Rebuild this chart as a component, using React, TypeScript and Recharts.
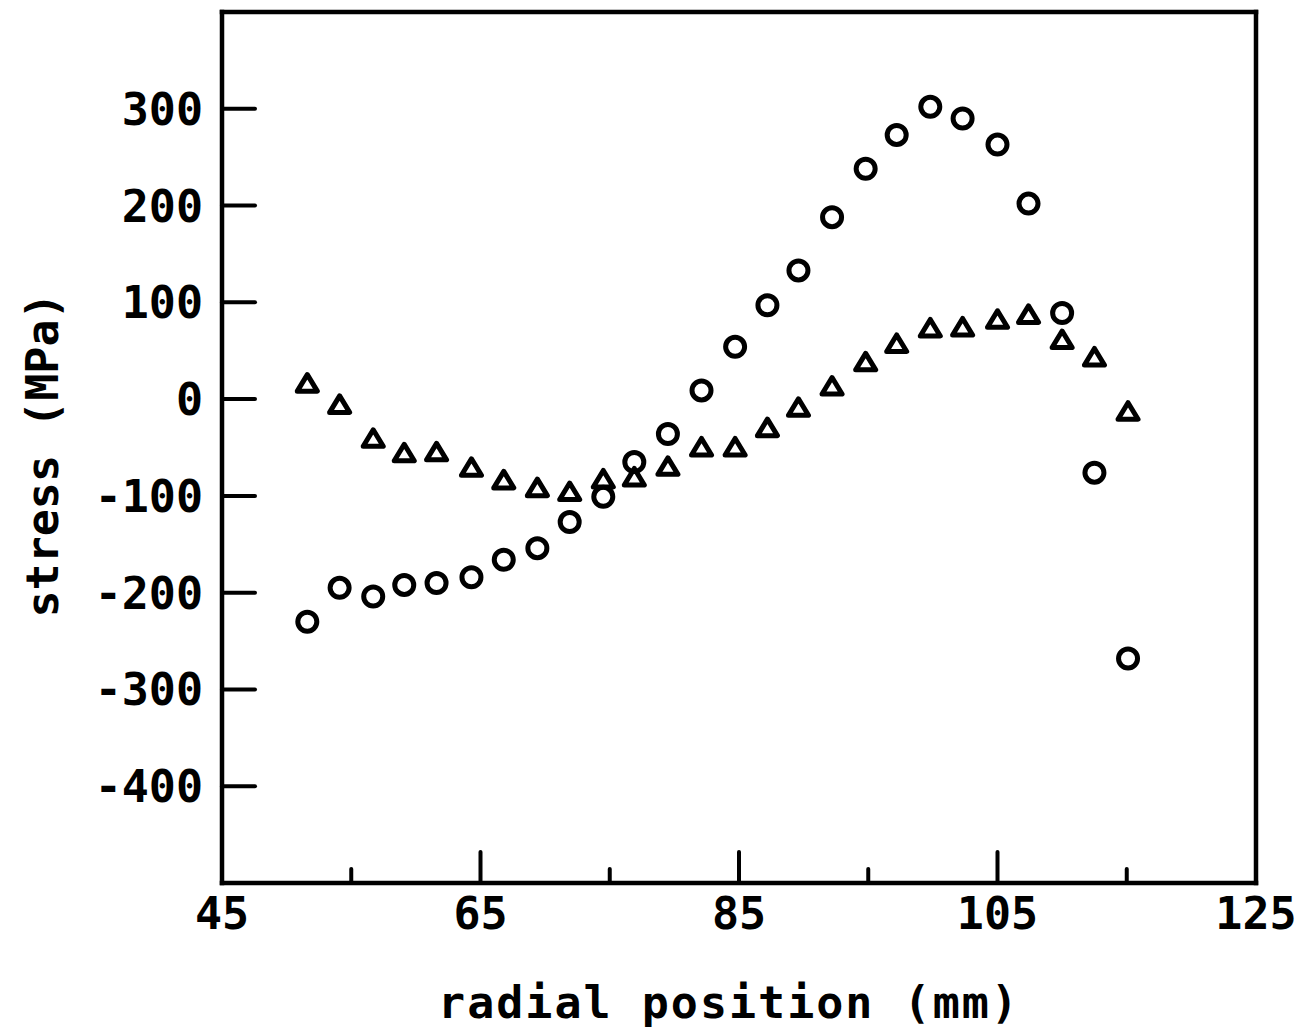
import React from "react"
import { ScatterChart, Scatter, XAxis, YAxis } from "recharts"

// radial position (mm) of each measurement
const radialPosition = [
	51.6, 54.1, 56.7, 59.1, 61.6, 64.3, 66.8, 69.4, 71.9, 74.5, 76.9, 79.5, 82.1,
	84.7, 87.2, 89.6, 92.2, 94.8, 97.2, 99.8, 102.3, 105.0, 107.4, 110.0, 112.5, 115.1,
]
// circles
const circleStress = [
	-230, -195, -204, -192, -190, -184, -166, -154, -127, -101, -65, -36, 9,
	54, 97, 133, 188, 238, 273, 302, 290, 263, 202, 89, -76, -268,
]
// triangles
const triangleStress = [
	16, -6, -41, -56, -55, -71, -84, -92, -96, -83, -81, -70, -50,
	-50, -30, -9, 13, 38, 57, 73, 74, 82, 87, 61, 43, -13,
]

const xTicks = [45, 55, 65, 75, 85, 95, 105, 115, 125]
const xLabelled = [45, 65, 85, 105, 125]
const yTicks = [-400, -300, -200, -100, 0, 100, 200, 300]

const circleData = radialPosition.map((x, i) => ({ x, y: circleStress[i] }))
const triangleData = radialPosition.map((x, i) => ({ x, y: triangleStress[i] }))

const FONT = "'DejaVu Sans Mono', monospace"
const INK = "#000"

const tickLen = (v: number) => (v === 45 || v === 125 ? 0 : v % 20 === 5 ? 31 : 14)

const BottomTick = (props: any) => {
	const { x, y, payload } = props
	const v = payload.value
	const len = tickLen(v)
	return (
		<g>
			{len > 0 && <line x1={x} x2={x} y1={y} y2={y - len} stroke={INK} strokeWidth={4} strokeLinecap="round" />}
			{xLabelled.includes(v) && (
				<text x={x} y={y + 46} textAnchor="middle" fontFamily={FONT} fontSize={45} fontWeight="bold" fill={INK}>
					{v}
				</text>
			)}
		</g>
	)
}

const TopTick = (props: any) => {
	const { x, y, payload } = props
	const len = tickLen(payload.value) - 2
	if (len <= 0) return <g />
	return <line x1={x} x2={x} y1={y} y2={y + len} stroke={INK} strokeWidth={4} strokeLinecap="round" />
}

const LeftTick = (props: any) => {
	const { x, y, payload } = props
	return (
		<g>
			<line x1={x} x2={x + 33} y1={y} y2={y} stroke={INK} strokeWidth={4} strokeLinecap="round" />
			<text x={x - 19} y={y + 16} textAnchor="end" fontFamily={FONT} fontSize={45} fontWeight="bold" fill={INK}>
				{payload.value}
			</text>
		</g>
	)
}

const RightTick = (props: any) => {
	const { x, y } = props
	return <line x1={x} x2={x - 36} y1={y} y2={y} stroke={INK} strokeWidth={4} strokeLinecap="round" />
}

const CircleMark = (props: any) => {
	const { cx, cy } = props
	return <circle cx={cx} cy={cy} r={9.5} fill="none" stroke={INK} strokeWidth={5} />
}

const TriangleMark = (props: any) => {
	const { cx, cy } = props
	const pts = `${cx},${cy - 9} ${cx + 10},${cy + 7.5} ${cx - 10},${cy + 7.5}`
	return <polygon points={pts} fill="none" stroke={INK} strokeWidth={5} strokeLinejoin="round" />
}

const axisLine = { stroke: INK, strokeWidth: 4.5, strokeLinecap: "square" as const }

export default function App() {
	return (
		<div style={{ position: "absolute", left: 0, top: 0, background: "#fff" }}>
			<ScatterChart width={1313} height={1036} margin={{ top: 0, right: 0, bottom: 0, left: 0 }}>
				<XAxis
					type="number"
					dataKey="x"
					domain={[45, 125]}
					ticks={xTicks}
					interval={0}
					height={153}
					tickSize={0}
					tickMargin={0}
					axisLine={axisLine}
					tickLine={false}
					tick={<BottomTick />}
					label={{
						value: "radial position (mm)",
						content: () => (
							<text x={729} y={1018} textAnchor="middle" fontFamily={FONT} fontSize={45} fontWeight="bold" letterSpacing={2} fill={INK}>
								radial position (mm)
							</text>
						),
					}}
				/>
				<XAxis
					xAxisId="top"
					orientation="top"
					type="number"
					dataKey="x"
					domain={[45, 125]}
					ticks={xTicks}
					interval={0}
					height={12}
					tickSize={0}
					tickMargin={0}
					axisLine={axisLine}
					tickLine={false}
					tick={<TopTick />}
				/>
				<YAxis
					type="number"
					dataKey="y"
					domain={[-500, 400]}
					ticks={yTicks}
					interval={0}
					width={222}
					tickSize={0}
					tickMargin={0}
					axisLine={axisLine}
					tickLine={false}
					tick={<LeftTick />}
					label={{
						value: "stress (MPa)",
						content: () => (
							<text
								x={58}
								y={455}
								transform="rotate(-90 58 455)"
								textAnchor="middle"
								fontFamily={FONT}
								fontSize={45}
								fontWeight="bold"
								fill={INK}
							>
								stress (MPa)
							</text>
						),
					}}
				/>
				<YAxis
					yAxisId="right"
					orientation="right"
					type="number"
					dataKey="y"
					domain={[-500, 400]}
					ticks={yTicks}
					interval={0}
					width={57}
					tickSize={0}
					tickMargin={0}
					axisLine={axisLine}
					tickLine={false}
					tick={<RightTick />}
				/>
				<Scatter data={triangleData} shape={<TriangleMark />} isAnimationActive={false} />
				<Scatter data={circleData} shape={<CircleMark />} isAnimationActive={false} />
			</ScatterChart>
		</div>
	)
}
